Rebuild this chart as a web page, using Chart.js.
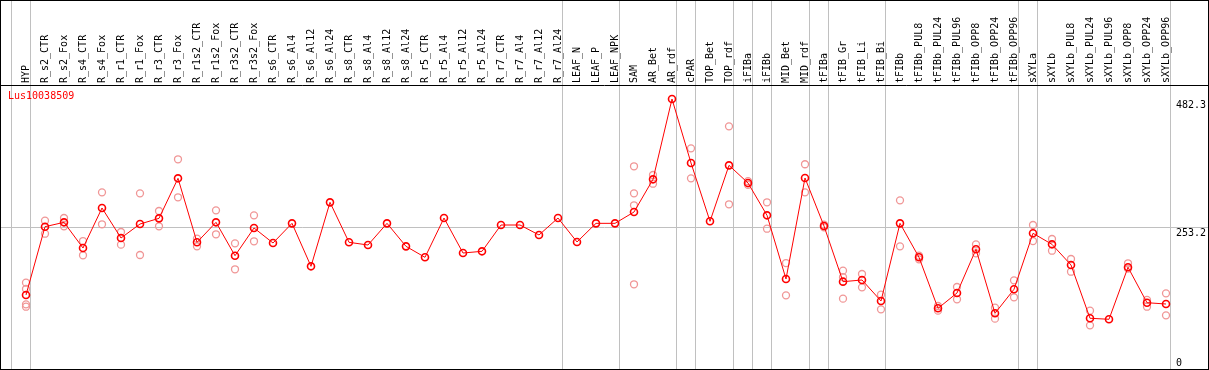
<!DOCTYPE html>
<html>
<head>
<meta charset="utf-8">
<script src="https://cdn.jsdelivr.net/npm/chart.js@4/dist/chart.umd.min.js"></script>
<style>
  body { margin: 0; background: #fff; }
  #wrap { width: 1209px; height: 370px; position: relative; }
</style>
</head>
<body>
<div id="wrap"><canvas id="myChart"></canvas></div>
<script>
const geneName = 'Lus10038509';

const categories = [
  'HYP', 'R_s2_CTR', 'R_s2_Fox', 'R_s4_CTR', 'R_s4_Fox', 'R_r1_CTR', 'R_r1_Fox', 'R_r3_CTR', 'R_r3_Fox',
  'R_r1s2_CTR', 'R_r1s2_Fox', 'R_r3s2_CTR', 'R_r3s2_Fox',
  'R_s6_CTR', 'R_s6_Al4', 'R_s6_Al12', 'R_s6_Al24', 'R_s8_CTR', 'R_s8_Al4', 'R_s8_Al12', 'R_s8_Al24',
  'R_r5_CTR', 'R_r5_Al4', 'R_r5_Al12', 'R_r5_Al24', 'R_r7_CTR', 'R_r7_Al4', 'R_r7_Al12', 'R_r7_Al24',
  'LEAF_N', 'LEAF_P', 'LEAF_NPK', 'SAM', 'AR_Bet', 'AR_rdf', 'cPAR', 'TOP_Bet', 'TOP_rdf',
  'iFIBa', 'iFIBb', 'MID_Bet', 'MID_rdf', 'tFIBa', 'tFIB_Gr', 'tFIB_Li', 'tFIB_Bi', 'tFIBb',
  'tFIBb_PUL8', 'tFIBb_PUL24', 'tFIBb_PUL96', 'tFIBb_OPP8', 'tFIBb_OPP24', 'tFIBb_OPP96',
  'sXYLa', 'sXYLb', 'sXYLb_PUL8', 'sXYLb_PUL24', 'sXYLb_PUL96', 'sXYLb_OPP8', 'sXYLb_OPP24', 'sXYLb_OPP96'
];

// mean expression per sample
const means = [
  132.2, 254.2, 262.0, 216.1, 287.6, 234.0, 259.0, 269.1, 340.6, 226.3, 262.0, 202.4, 251.9, 225.1, 260.2,
  183.4, 297.7, 226.3, 221.5, 260.2, 219.1, 199.5, 269.7, 207.2, 210.2, 257.2, 257.2, 239.4, 269.7, 226.9, 260.2,
  260.2, 280.4, 338.8, 482.3, 368.0, 263.8, 363.8, 332.3, 274.5, 160.8, 341.2, 255.4, 156.0, 159.0, 121.5, 260.2,
  199.5, 108.4, 135.8, 213.8, 99.5, 142.4, 242.4, 222.7, 185.8, 90.6, 88.8, 181.7, 118.4, 116.1
];

// single replicates (pink circles), one list per sample
const replicates = [
  [154.2, 142.9, 115.5, 111.3], [264.9, 241.7], [269.7, 254.9], [228.6, 203.1], [315.6, 258.5],
  [244.7, 222.1], [313.8, 203.6], [282.2, 254.9], [374.6, 306.7], [232.8, 219.1], [283.4, 240.6],
  [224.5, 178.1], [274.5, 228.1],
  [], [], [], [], [], [], [], [], [], [], [], [], [], [], [], [], [], [], [],
  [362.1, 313.8, 292.4, 151.3], [346.5, 331.0], [], [394.2, 340.6], [], [433.5, 294.2],
  [335.5, 329.1], [297.8, 250.6], [189.3, 131.6], [365.7, 315.6], [257.8, 253.1],
  [175.7, 164.0, 125.6], [169.7, 145.9], [132.7, 106.6], [301.3, 219.1],
  [202.4, 196.0], [112.5, 104.2], [146.5, 124.5], [222.7, 206.7], [109.5, 89.9], [158.4, 128.1],
  [257.2, 228.6], [232.2, 211.3], [196.5, 173.8], [104.2, 78.0], [], [188.8, 179.2], [123.3, 111.3], [135.2, 95.9]
];

const yTicks = [0, 253.2, 482.3];
const groupEnds = [-1, 0, 28, 31, 34, 35, 37, 38, 39, 41, 42, 45, 52, 53, 60];

const FONT = '10px "DejaVu Sans Mono", monospace';

const meanPoints = means.map((v, i) => ({ x: i, y: v }));
const repPoints = [];
replicates.forEach((list, i) => list.forEach(v => repPoints.push({ x: i, y: v })));

const framePlugin = {
  id: 'frame',
  beforeDatasetsDraw(chart) {
    const c = chart.ctx;
    const xs = chart.scales.x, ys = chart.scales.y;
    const a = chart.chartArea;
    c.save();
    c.strokeStyle = '#c0c0c0';
    c.lineWidth = 1;
    groupEnds.forEach(g => {
      const px = Math.round(xs.getPixelForValue(g + 0.23)) + 0.5;
      c.beginPath(); c.moveTo(px, 0); c.lineTo(px, a.bottom); c.stroke();
    });
    const gy = Math.round(ys.getPixelForValue(yTicks[1])) + 0.5;
    c.beginPath(); c.moveTo(a.left, gy); c.lineTo(a.right, gy); c.stroke();

    c.strokeStyle = '#000';
    c.beginPath(); c.moveTo(0, a.top + 0.5); c.lineTo(chart.width, a.top + 0.5); c.stroke();
    c.strokeRect(0.5, 0.5, chart.width - 1, chart.height - 1);
    c.restore();
  },
  afterDatasetsDraw(chart) {
    const c = chart.ctx;
    const xs = chart.scales.x, ys = chart.scales.y;
    const a = chart.chartArea;
    c.save();
    c.font = FONT;
    c.fillStyle = '#000';
    c.textAlign = 'left';
    c.textBaseline = 'alphabetic';
    categories.forEach((name, i) => {
      const px = xs.getPixelForValue(i);
      c.save();
      c.translate(px + 3, a.top - 2);
      c.rotate(-Math.PI / 2);
      c.fillText(name, 0, 0);
      c.restore();
    });

    // value labels, left aligned inside the right edge
    const lx = a.right - 32;
    yTicks.forEach((t, k) => {
      const py = ys.getPixelForValue(t);
      if (k === 0) {
        c.textBaseline = 'alphabetic';
        c.fillText(String(t), lx, py - 3);
      } else {
        c.textBaseline = 'top';
        c.fillText(String(t), lx, py + 1);
      }
    });

    c.fillStyle = '#ff0000';
    c.textBaseline = 'alphabetic';
    c.fillText(geneName, 8, a.top + 14);
    c.restore();
  }
};

const spacing = 19;
const ctx = document.getElementById('myChart');

new Chart(ctx, {
  type: 'scatter',
  data: {
    datasets: [
      {
        label: 'mean',
        data: meanPoints,
        showLine: true,
        borderColor: '#ff0000',
        borderWidth: 1,
        pointRadius: 3.5,
        pointBorderWidth: 1.6,
        pointBorderColor: '#ff0000',
        pointBackgroundColor: 'rgba(0,0,0,0)',
        order: 0
      },
      {
        label: 'replicates',
        data: repPoints,
        showLine: false,
        pointRadius: 3.5,
        pointBorderWidth: 1.3,
        pointBorderColor: 'rgb(240,150,150)',
        pointBackgroundColor: 'rgba(0,0,0,0)',
        order: 1
      }
    ]
  },
  options: {
    responsive: true,
    maintainAspectRatio: false,
    animation: false,
    layout: { autoPadding: false, padding: { left: 1, right: 1, top: 85, bottom: 1 } },
    plugins: { legend: { display: false }, tooltip: { enabled: false } },
    scales: {
      x: {
        type: 'linear',
        display: false,
        min: -25 / spacing,
        max: -25 / spacing + 1207 / spacing
      },
      y: {
        type: 'linear',
        display: false,
        min: 0,
        max: 482.3 * 284 / 270
      }
    }
  },
  plugins: [framePlugin]
});
</script>
</body>
</html>
